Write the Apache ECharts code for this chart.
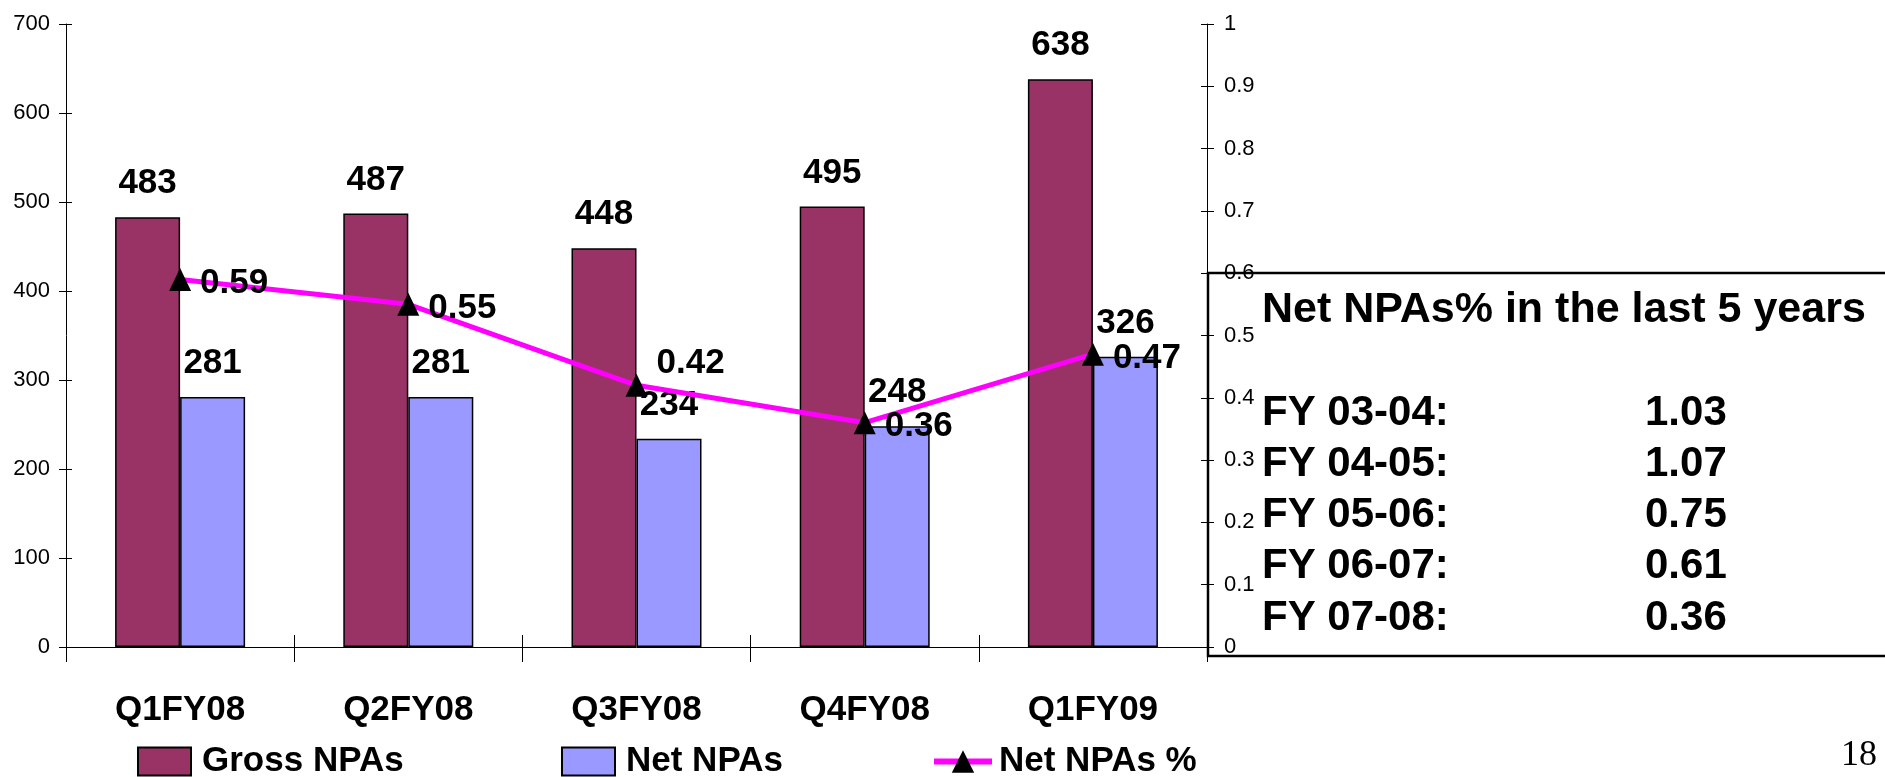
<!DOCTYPE html>
<html>
<head>
<meta charset="utf-8">
<title>Gross and Net NPAs</title>
<script src="https://cdn.jsdelivr.net/npm/echarts@6/dist/echarts.min.js"></script>
<style>
  html, body { margin: 0; padding: 0; background: #ffffff; }
  #chart { width: 1885px; height: 777px; }
</style>
</head>
<body>
<div id="chart"></div>
<script>
// Quarterly NPA figures
const categories = ['Q1FY08', 'Q2FY08', 'Q3FY08', 'Q4FY08', 'Q1FY09'];
const grossNPAs = [483, 487, 448, 495, 638];
const netNPAs = [281, 281, 234, 248, 326];
const netNPAsPct = [0.59, 0.55, 0.42, 0.36, 0.47];

// Axis scales
const amountAxis = { min: 0, max: 700, interval: 100 };
const pctAxis = { min: 0, max: 1, interval: 0.1 };

// Five-year history shown in the side panel
const panelTitle = 'Net NPAs% in the last 5 years';
const historyYears = ['FY 03-04:', 'FY 04-05:', 'FY 05-06:', 'FY 06-07:', 'FY 07-08:'];
const historyValues = ['1.03', '1.07', '0.75', '0.61', '0.36'];

const pageNumber = '18';

// Prefer a condensed sans for the chart labels when it is installed
function fontInstalled(name) {
  const ctx = document.createElement('canvas').getContext('2d');
  const sample = 'Q1FY08 Gross NPAs 0123456789';
  ctx.font = '40px monospace';
  const base = ctx.measureText(sample).width;
  ctx.font = "40px '" + name + "', monospace";
  return ctx.measureText(sample).width !== base;
}
const narrow = fontInstalled('Liberation Sans Narrow');
const labelFamily = narrow ? "'Liberation Sans Narrow', 'Liberation Sans', Arial, sans-serif" : "'Liberation Sans', Arial, sans-serif";
const bigSize = narrow ? 40 : 35;
const tickSize = narrow ? 24 : 22;
const panelFamily = "'Liberation Sans', Arial, sans-serif";

const GROSS = '#993366';
const NET = '#9999FF';
const PCT = '#FF00FF';

const chart = echarts.init(document.getElementById('chart'), null, { renderer: 'canvas' });

const bigLabel = {
  fontFamily: labelFamily,
  fontWeight: 'bold',
  fontSize: bigSize,
  lineHeight: bigSize,
  color: '#000'
};

function pctFmt(v) { return (Math.round(v * 10) / 10).toString(); }

const panelFont = 'bold 42px ' + panelFamily;
const panelGraphics = [];
panelGraphics.push({
  type: 'rect',
  z: 1,
  shape: { x: 1208, y: 273, width: 720, height: 383 },
  style: { fill: 'none', stroke: '#000', lineWidth: 2.5 }
});
panelGraphics.push({
  type: 'text',
  z: 10,
  x: 1262, y: 310,
  style: {
    text: panelTitle, fill: '#000',
    font: 'bold 43px ' + panelFamily,
    textAlign: 'left', textVerticalAlign: 'middle'
  }
});
historyYears.forEach(function (yr, i) {
  const y = 413 + i * 51.3;
  panelGraphics.push({
    type: 'text', z: 10, x: 1262, y: y,
    style: { text: yr, fill: '#000', font: panelFont, textAlign: 'left', textVerticalAlign: 'middle' }
  });
  panelGraphics.push({
    type: 'text', z: 10, x: 1645, y: y,
    style: { text: historyValues[i], fill: '#000', font: panelFont, textAlign: 'left', textVerticalAlign: 'middle' }
  });
});
panelGraphics.push({
  type: 'text', z: 10, x: 1877, y: 756,
  style: { text: pageNumber, fill: '#000', font: "36px 'Liberation Serif', 'Times New Roman', serif", textAlign: 'right', textVerticalAlign: 'middle' }
});

function legendFor(name, left, icon, width, gap) {
  return {
    data: [name],
    left: left,
    top: 744,
    orient: 'horizontal',
    itemWidth: width,
    itemHeight: 28,
    icon: icon,
    selectedMode: false,
    padding: 0,
    lineStyle: { width: 6, color: PCT },
    textStyle: {
      fontFamily: labelFamily, fontWeight: 'bold', fontSize: bigSize,
      lineHeight: bigSize, color: '#000', padding: [0, 0, 0, gap]
    }
  };
}

const option = {
  backgroundColor: '#ffffff',
  animation: false,
  grid: { left: 66, right: 678, top: 24, bottom: 130, containLabel: false },
  legend: [
    legendFor('Gross NPAs', 137, 'rect', 53, 6),
    legendFor('Net NPAs', 561, 'rect', 53, 6),
    legendFor('Net NPAs %', 931, undefined, 58, 2)
  ],
  xAxis: [
    {
      type: 'category', data: categories, position: 'bottom',
      axisLine: { lineStyle: { color: '#000', width: 1 } },
      axisTick: { show: true, length: 15, lineStyle: { color: '#000' } },
      axisLabel: { margin: 46, ...bigLabel },
      splitLine: { show: false }
    },
    {
      type: 'category', data: categories, position: 'bottom',
      axisLine: { show: false },
      axisTick: { show: true, inside: true, length: 12, lineStyle: { color: '#000' } },
      axisLabel: { show: false },
      splitLine: { show: false }
    }
  ],
  yAxis: [
    {
      type: 'value', position: 'left', ...amountAxis,
      axisLine: { show: true, lineStyle: { color: '#000', width: 1 } },
      axisTick: { show: true, length: 7, lineStyle: { color: '#000' } },
      axisLabel: { margin: 16, fontFamily: labelFamily, fontSize: tickSize, color: '#000' },
      splitLine: { show: false }
    },
    {
      type: 'value', position: 'right', ...pctAxis,
      axisLine: { show: true, lineStyle: { color: '#000', width: 1 } },
      axisTick: { show: true, length: 7, lineStyle: { color: '#000' } },
      axisLabel: { margin: 17, fontFamily: labelFamily, fontSize: tickSize, color: '#000', formatter: pctFmt },
      splitLine: { show: false }
    },
    {
      type: 'value', position: 'left', ...amountAxis,
      axisLine: { show: false },
      axisTick: { show: true, inside: true, length: 6, lineStyle: { color: '#000' } },
      axisLabel: { show: false },
      splitLine: { show: false }
    },
    {
      type: 'value', position: 'right', ...pctAxis,
      axisLine: { show: false },
      axisTick: { show: true, inside: true, length: 6, lineStyle: { color: '#000' } },
      axisLabel: { show: false },
      splitLine: { show: false }
    }
  ],
  series: [
    {
      name: 'Gross NPAs', type: 'bar', data: grossNPAs, yAxisIndex: 0,
      barWidth: 65, barGap: '0%',
      itemStyle: { color: GROSS, borderColor: '#000', borderWidth: 1.5 },
      label: { show: true, position: 'top', distance: 16, ...bigLabel },
      z: 2
    },
    {
      name: 'Net NPAs', type: 'bar', data: netNPAs, yAxisIndex: 0,
      barWidth: 65, barGap: '0%',
      itemStyle: { color: NET, borderColor: '#000', borderWidth: 1.5 },
      label: { show: true, position: 'top', distance: 16, ...bigLabel },
      z: 2
    },
    {
      name: 'Net NPAs %', type: 'line', yAxisIndex: 1,
      data: netNPAsPct.map(function (v, i) {
        // the Q3FY08 value sits above its marker so it clears the Net NPAs label
        return i === 2 ? { value: v, label: { offset: [0, -22] } } : v;
      }),
      symbol: 'triangle', symbolSize: [22, 23], showAllSymbol: true,
      itemStyle: { color: '#000' },
      lineStyle: { color: PCT, width: 5 },
      label: { show: true, position: 'right', distance: 9, offset: [0, 4], ...bigLabel },
      z: 3
    }
  ],
  graphic: panelGraphics
};

chart.setOption(option);
</script>
</body>
</html>
